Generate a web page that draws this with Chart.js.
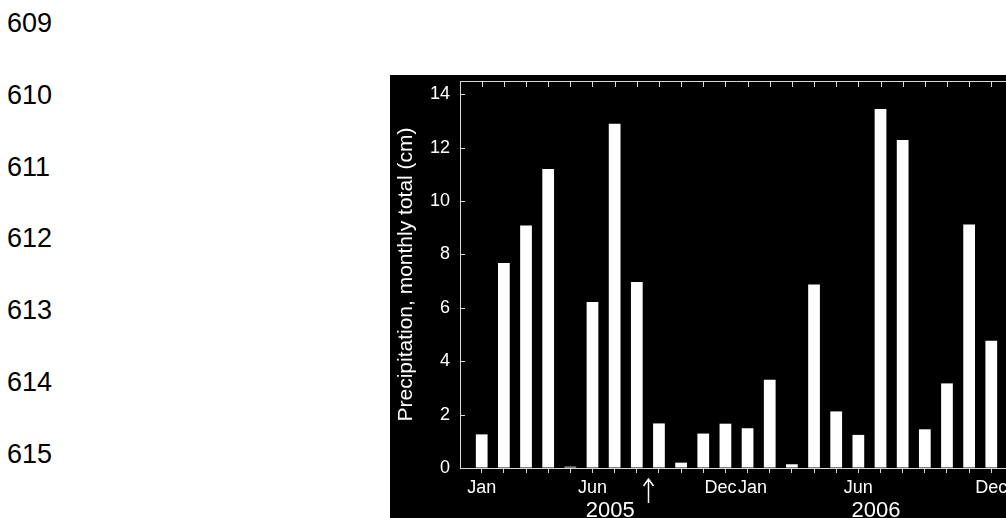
<!DOCTYPE html>
<html>
<head>
<meta charset="utf-8">
<script src="https://cdn.jsdelivr.net/npm/chart.js@4.4.1/dist/chart.umd.min.js"></script>
<style>
  html, body { margin: 0; padding: 0; background: #fff; width: 1006px; height: 518px; overflow: hidden; }
  .ln { position: absolute; left: 7px; font-family: "Liberation Sans", Arial, sans-serif; font-size: 27px; line-height: 27px; color: #000; }
  #box { position: absolute; left: 390px; top: 75px; width: 640px; height: 443px; background: #000; }
</style>
</head>
<body>
<div class="ln" style="top:10px">609</div>
<div class="ln" style="top:82px">610</div>
<div class="ln" style="top:154px">611</div>
<div class="ln" style="top:225px">612</div>
<div class="ln" style="top:297px">613</div>
<div class="ln" style="top:369px">614</div>
<div class="ln" style="top:441px">615</div>
<div id="box"><canvas id="myChart"></canvas></div>
<script>
// monthly precipitation totals (cm), Jan 2005 .. Dec 2006
const months=['Jan','','','','','Jun','','','','','','Dec','Jan','','','','','Jun','','','','','','Dec'];
const precip=[1.26,7.68,9.09,11.2,0.05,6.22,12.9,6.97,1.67,0.2,1.29,1.66,
              1.49,3.31,0.14,6.88,2.12,1.24,13.45,12.29,1.45,3.17,9.12,4.77];
const years=['2005','2006'];
const yTicks=[0,2,4,6,8,10,12,14];

const FONT='"Liberation Sans", Arial, sans-serif';
const AXIS='#d8d8d8';

// frame, inward ticks, year labels and the arrow
const extras={
  id:'extras',
  afterDraw(c){
    const ctx=c.ctx, a=c.chartArea, x=c.scales.x, y=c.scales.y;
    ctx.save();
    ctx.strokeStyle=AXIS;
    ctx.lineWidth=1;
    ctx.beginPath();
    ctx.moveTo(a.left,a.top+0.5);ctx.lineTo(a.right,a.top+0.5);
    ctx.moveTo(a.right-0.5,a.top);ctx.lineTo(a.right-0.5,a.bottom);
    for(let i=0;i<months.length;i++){
      const px=Math.round(x.getPixelForValue(i))+0.5;
      ctx.moveTo(px,a.top);ctx.lineTo(px,a.top+6);
    }
    yTicks.forEach(v=>{
      const py=Math.round(y.getPixelForValue(v))+0.5;
      ctx.moveTo(a.left,py);ctx.lineTo(a.left+5,py);
    });
    ctx.stroke();

    ctx.fillStyle='#fff';
    ctx.font='22px '+FONT;
    ctx.textAlign='center';
    ctx.textBaseline='alphabetic';
    years.forEach((yr,k)=>{
      ctx.fillText(yr,x.getPixelForValue(12*k+5.8),a.bottom+49);
    });

    // arrow between Aug and Sep 2005
    const ax=Math.round(x.getPixelForValue(7.5))+0.5;
    ctx.strokeStyle='#fff';
    ctx.lineWidth=1.5;
    ctx.beginPath();
    ctx.moveTo(ax,a.bottom+11);ctx.lineTo(ax,a.bottom+35);
    ctx.moveTo(ax-5,a.bottom+18);ctx.lineTo(ax,a.bottom+11);ctx.lineTo(ax+5,a.bottom+18);
    ctx.stroke();
    ctx.restore();
  }
};

let myChart=document.querySelector("#myChart").getContext("2d");
var chart=new Chart(myChart,{
  type:"bar",
  data:{
    datasets:[{
      label:"Precipitation",
      data:precip.map((v,i)=>({x:i,y:v})),
      backgroundColor:"#ffffff",
      borderWidth:0,
      barPercentage:0.53,
      categoryPercentage:1
    }]
  },
  options:{
    responsive:true,
    maintainAspectRatio:false,
    animation:false,
    layout:{padding:{top:6,right:17,bottom:0,left:0}},
    plugins:{legend:{display:false},tooltip:{enabled:false}},
    scales:{
      x:{
        type:"linear",
        offset:false,
        min:-0.98,
        max:23.98,
        afterFit(s){ s.height=50; s.paddingLeft=0; s.paddingRight=0; },
        grid:{drawOnChartArea:false,drawTicks:true,tickLength:5,color:AXIS,offset:false},
        border:{color:AXIS},
        ticks:{
          stepSize:1,
          includeBounds:false,
          autoSkip:false,
          maxRotation:0,
          color:"#fff",
          padding:4,
          font:{family:FONT,size:18},
          callback(v){
            const l=months[v]||'';
            // "Dec" and "Jan" sit tight together in the original
            if(l==='Dec'&&months[v+1]==='Jan') return l+'  ';
            if(l==='Jan'&&months[v-1]==='Dec') return '  '+l;
            return l;
          }
        }
      },
      y:{
        min:0,
        max:14.5,
        afterFit(s){ s.width=70; s.paddingTop=0; s.paddingBottom=0; },
        grid:{drawOnChartArea:false,drawTicks:false},
        border:{color:AXIS},
        ticks:{
          stepSize:2,
          includeBounds:false,
          color:"#fff",
          padding:10,
          font:{family:FONT,size:18}
        },
        title:{
          display:true,
          text:"Precipitation, monthly total (cm)",
          color:"#fff",
          font:{family:FONT,size:21},
          padding:{top:4,bottom:0}
        }
      }
    }
  },
  plugins:[extras]
});
</script>
</body>
</html>
